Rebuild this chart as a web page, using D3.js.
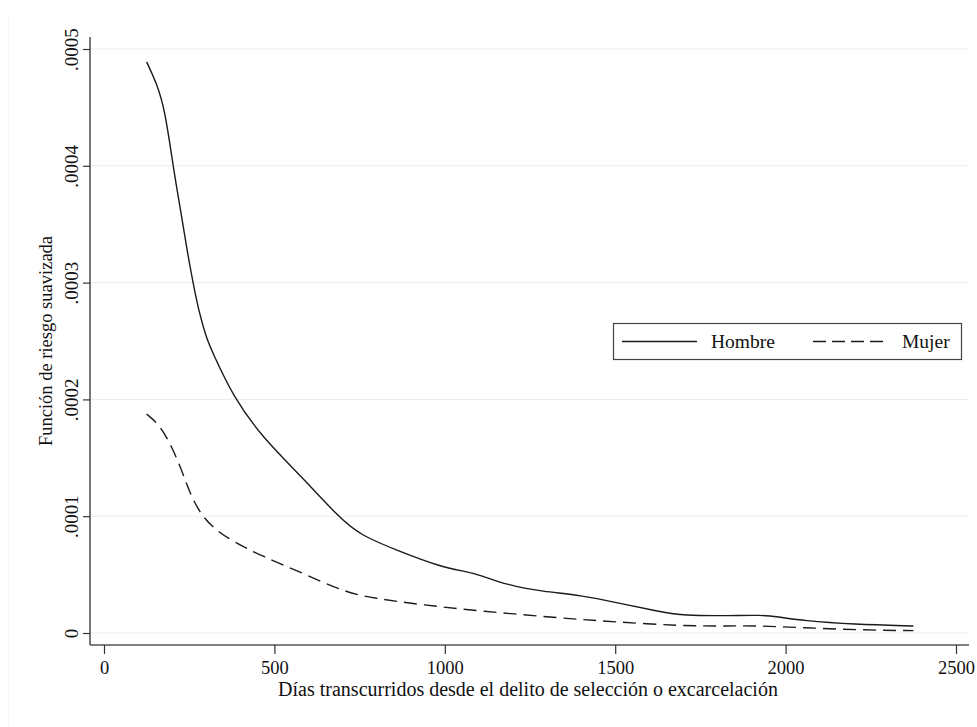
<!DOCTYPE html>
<html><head><meta charset="utf-8">
<script src="https://cdn.jsdelivr.net/npm/d3@7/dist/d3.min.js"></script>
<style>
html,body{margin:0;padding:0;background:#fff;}
text{font-family:"Liberation Serif","Times New Roman",serif;fill:#111;}
</style></head>
<body><svg id="c" width="977" height="727"></svg>
<script>
const hombreDays = [125,154,179,203,223,247,262,277,301,316,379,467,575,692,751,869,986,1064,1103,1182,1289,1397,1514,1631,1700,1837,1925,1974,2052,2199,2375];
const hombreVals = [0.000489,0.000471,0.000448,0.000399,0.000365,0.000322,0.000299,0.000277,0.000252,0.000242,0.000202,0.0001667,0.0001353,0.0000982,0.0000839,0.0000696,0.0000568,0.0000525,0.0000497,0.0000411,0.0000354,0.0000325,0.0000254,0.0000182,0.0000148,0.0000148,0.0000154,0.000014,0.0000105,0.0000074,0.000006];
const mujerDays = [125,164,199,228,252,282,321,379,467,585,702,790,937,1103,1348,1494,1690,1837,1905,2052,2218,2375];
const mujerVals = [0.0001875,0.000178,0.0001595,0.0001396,0.0001196,0.0001025,0.0000896,0.0000782,0.0000653,0.0000511,0.0000354,0.0000297,0.000024,0.0000188,0.0000126,0.0000097,0.000006,0.000006,0.0000063,0.0000046,0.0000026,0.000002];
const xTicks = [0,500,1000,1500,2000,2500];
const yTicks = [0,0.0001,0.0002,0.0003,0.0004,0.0005];
const yTickLabels = ["0",".0001",".0002",".0003",".0004",".0005"];
const seriesNames = ["Hombre","Mujer"];
const xTitle = "Días transcurridos desde el delito de selección o excarcelación";
const yTitle = "Función de riesgo suavizada";

(function(){
const svg = d3.select("#c");
const x = d3.scaleLinear().domain([0,2500]).range([104,956]);
const y = d3.scaleLinear().domain([0,0.0005]).range([633,49]);
const pL = 90, pR = 969, pT = 37, pB = 645;
const serif = '"Liberation Serif","Times New Roman",serif';

// faint outer frame
svg.append("line").attr("x1",8.5).attr("x2",8.5).attr("y1",14).attr("y2",727)
  .attr("stroke","#eef0f0").attr("stroke-width",1).attr("stroke-dasharray","1,1");

// gridlines
svg.append("g").selectAll("line").data(yTicks).join("line")
  .attr("x1",pL).attr("x2",pR)
  .attr("y1",d=>y(d)).attr("y2",d=>y(d))
  .attr("stroke","#e6eef0").attr("stroke-width",1);

// y axis
const yAxis = svg.append("g").attr("transform",`translate(${pL},0)`)
  .call(d3.axisLeft(y).tickValues(yTicks).tickSize(7).tickFormat((d,i)=>yTickLabels[i]));
yAxis.select(".domain").attr("d",`M0,${pT}V${pB}`).attr("stroke","#555").attr("stroke-width",1.6);
yAxis.selectAll(".tick line").attr("stroke","#333").attr("stroke-width",1.2);
yAxis.selectAll(".tick text")
  .attr("x",0).attr("dy",0)
  .attr("transform","translate(-12,0) rotate(-90)")
  .attr("text-anchor","middle")
  .style("font-family",serif).style("font-size","19px").attr("fill","#111");

// x axis
const xAxis = svg.append("g").attr("transform",`translate(0,${pB})`)
  .call(d3.axisBottom(x).tickValues(xTicks).tickSize(9).tickFormat(d3.format("d")));
xAxis.select(".domain").attr("d",`M${pL},0H${pR}`).attr("stroke","#555").attr("stroke-width",1.6);
xAxis.selectAll(".tick line").attr("stroke","#333").attr("stroke-width",1.2);
xAxis.selectAll(".tick text").attr("y",0).attr("dy",0).attr("transform","translate(0,29)")
  .style("font-family",serif).style("font-size","18.5px").attr("fill","#111");

// titles
svg.append("text").attr("x",528).attr("y",696).attr("text-anchor","middle")
  .style("font-family",serif).style("font-size","20px").text(xTitle);
svg.append("text").attr("transform","translate(52,341) rotate(-90)").attr("text-anchor","middle")
  .style("font-family",serif).style("font-size","18.5px").text(yTitle);

// lines
const line = d3.line().x(d=>x(d[0])).y(d=>y(d[1])).curve(d3.curveBasis);
const hombre = hombreDays.map((d,i)=>[d,hombreVals[i]]);
const mujer = mujerDays.map((d,i)=>[d,mujerVals[i]]);
svg.append("path").datum(hombre).attr("d",line).attr("fill","none")
  .attr("stroke","#1a1a1a").attr("stroke-width",1.4);
svg.append("path").datum(mujer).attr("d",line).attr("fill","none")
  .attr("stroke","#1a1a1a").attr("stroke-width",1.4).attr("stroke-dasharray","13,7");

// legend
const lg = svg.append("g");
lg.append("rect").attr("x",613.5).attr("y",323.5).attr("width",348).attr("height",36)
  .attr("fill","#fff").attr("stroke","#444").attr("stroke-width",1.2);
lg.append("line").attr("x1",622).attr("x2",697).attr("y1",341.5).attr("y2",341.5)
  .attr("stroke","#1a1a1a").attr("stroke-width",1.4);
lg.append("text").attr("x",711).attr("y",348).style("font-family",serif).style("font-size","19.5px").text(seriesNames[0]);
lg.append("line").attr("x1",813).attr("x2",888).attr("y1",341.5).attr("y2",341.5)
  .attr("stroke","#1a1a1a").attr("stroke-width",1.4).attr("stroke-dasharray","13,6");
lg.append("text").attr("x",902).attr("y",348).style("font-family",serif).style("font-size","19.5px").text(seriesNames[1]);
})();
</script></body></html>
